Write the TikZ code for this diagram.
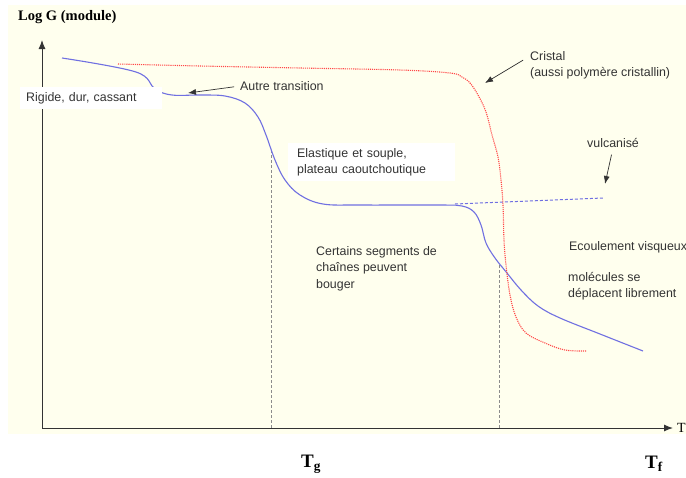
\documentclass[tikz,border=0pt]{standalone}
\usepackage{fontspec}
\setmainfont{Liberation Serif}
\setsansfont{Liberation Sans}
\usetikzlibrary{arrows.meta}

\definecolor{fond}{RGB}{255,255,238}
\definecolor{courbe}{RGB}{112,112,225}
\definecolor{cristal}{RGB}{255,72,72}

\tikzset{
  etiq/.style={font=\sffamily\fontsize{12.4}{16.5}\selectfont, text=black!80, align=left, inner sep=0pt},
  boite/.style={etiq, fill=white, anchor=north west, inner xsep=6pt, inner ysep=5pt},
  fleche/.style={-{Latex[length=8pt,width=6pt]}, black!80, line width=0.7pt},
  axe/.style={-{Latex[length=9pt,width=7pt]}, black!80, line width=1pt},
  pointilles/.style={black!45, line width=0.6pt, dash pattern=on 3pt off 2pt},
}

\begin{document}
\begin{tikzpicture}[x=1pt,y=-1pt]
\useasboundingbox (0,0) rectangle (686,477);
\fill[fond] (8,5) rectangle (686,434);

\coordinate (O) at (42,428);
\coordinate (ymax) at (42,40);
\coordinate (xmax) at (673,428);
\coordinate (tgbas) at (271,428);
\coordinate (tghaut) at (271,150);
\coordinate (tfbas) at (499,428);
\coordinate (tfhaut) at (499,265);

\draw[pointilles] (tghaut) -- (tgbas);
\draw[pointilles] (tfhaut) -- (tfbas);

\draw[axe] (O) -- (ymax);
\draw[axe] (O) -- (xmax);

\node[font=\bfseries\fontsize{14.5}{16}\selectfont, anchor=west, inner sep=0pt] (logg) at (18,17) {Log G (module)};
\node[font=\fontsize{14}{16}\selectfont, anchor=west, inner sep=0pt] (temp) at (677,428) {T};
\node[font=\bfseries\fontsize{19}{20}\selectfont, inner sep=0pt] (tg) at (311,464) {T\textsubscript{g}};
\node[font=\bfseries\fontsize{19}{20}\selectfont, inner sep=0pt] (tf) at (654,464) {T\textsubscript{f}};

% courbe amorphe
\draw[courbe, line width=1.1pt] plot[smooth, tension=.6] coordinates {(62,58) (136,72) (155,89) (172,95) (200,95) (225,96) (245,103) (258,117) (266,135) (275,160) (285,180) (300,195) (323,204) (360,205) (440,205) (462,206) (474,212) (481,225) (486,243) (495,258) (507,273) (521,290) (538,306) (560,318) (600,334) (643,351)};
\draw[courbe, line width=1pt, dash pattern=on 3pt off 2pt] (455,204) -- (603,198);

% cristal
\draw[cristal, line width=1.1pt, densely dotted] plot[smooth, tension=.6] coordinates {(118,64) (200,66) (300,68) (400,70) (450,73) (462,77) (470,83) (478,95) (486,112) (492,135) (498,157) (501,180) (503,205) (504,240) (506,265) (510,295) (516,317) (526,333) (545,343) (565,350) (587,351)};

\node[boite, text width=130pt] (rigide) at (20,87) {Rigide, dur, cassant};
\node[boite, text width=149pt, inner xsep=9pt] (elastique) at (288,143) {Elastique et souple,\\plateau caoutchoutique};

\node[etiq, anchor=west] (autre) at (240,86) {Autre transition};
\coordinate (autrebout) at (188,93);
\draw[fleche, shorten <=6pt] (autre.west) -- (autrebout);

\node[etiq, anchor=west] (cristal) at (530,56) {Cristal};
\node[etiq, anchor=west] (polycrist) at (530,73) {(aussi polymère cristallin)};
\coordinate (cristalbout) at (485,83);
\draw[fleche, shorten <=8pt] (cristal.west) -- (cristalbout);

\node[etiq, anchor=west] (vulca) at (587,143) {vulcanisé};
\coordinate (vulcabout) at (605,184);
\draw[fleche, shorten <=7pt] (vulca.south) -- (vulcabout);

\node[etiq, anchor=north west] (segments) at (316,246) {Certains segments de\\chaînes peuvent\\bouger};
\node[etiq, anchor=west] (ecoulement) at (569,247) {Ecoulement visqueux};
\node[etiq, anchor=north west] (molecules) at (568,272) {molécules se\\déplacent librement};

\end{tikzpicture}
\end{document}
